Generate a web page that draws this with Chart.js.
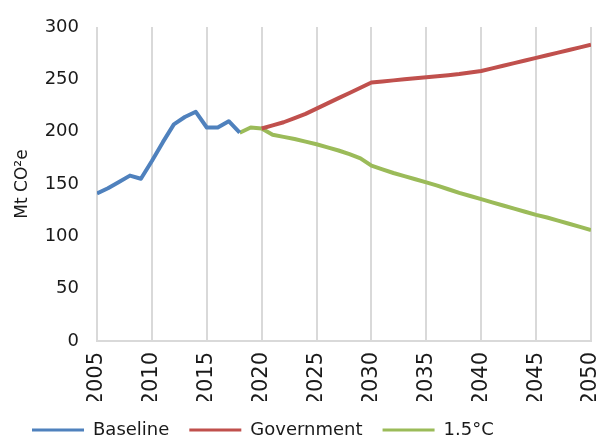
<!DOCTYPE html>
<html>
<head>
<meta charset="utf-8">
<script src="https://cdn.jsdelivr.net/npm/chart.js@4/dist/chart.umd.min.js"></script>
</head>
<body style="margin:0;background:#fff">
<div style="width:601px;height:441px"><canvas id="emissions"></canvas></div>
<script>
// Emissions pathways, Mt CO2e
const baselineYears = [2005, 2006, 2007, 2008, 2009, 2010, 2011, 2012, 2013, 2014, 2015, 2016, 2017, 2018];
const baselineValues = [141, 146, 152, 158, 155, 172, 190, 207, 214, 219, 204, 204, 210, 199];

const governmentYears = [2020, 2021, 2022, 2023, 2024, 2025, 2026, 2027, 2028, 2029, 2030,
  2031, 2032, 2033, 2034, 2035, 2036, 2037, 2038, 2039, 2040,
  2041, 2042, 2043, 2044, 2045, 2046, 2047, 2048, 2049, 2050];
const governmentValues = [203, 206, 209, 213, 217, 222, 227, 232, 237, 242, 247,
  248, 249, 250, 251, 252, 253, 254, 255, 256.5, 258,
  260.5, 263, 265.5, 268, 270.5, 273, 275.5, 278, 280.5, 283];

const onePointFiveYears = [2018, 2019, 2020, 2021, 2022, 2023, 2024, 2025, 2026, 2027, 2028, 2029, 2030,
  2031, 2032, 2033, 2034, 2035, 2036, 2037, 2038, 2039, 2040,
  2041, 2042, 2043, 2044, 2045, 2046, 2047, 2048, 2049, 2050];
const onePointFiveValues = [199, 204, 203, 197, 195, 193, 190.5, 188, 185, 182, 178.5, 174.5, 167.5,
  164, 160.5, 157.5, 154.5, 151.5, 148.5, 145, 141.5, 138.5, 135.5,
  132.5, 129.5, 126.5, 123.5, 120.5, 118, 115, 112, 109, 106];

const yTicks = [0, 50, 100, 150, 200, 250, 300];

const FONT = '"DejaVu Sans", sans-serif';
const TEXT = '#1a1a1a';

function pts(years, values) {
  return years.map((y, i) => ({ x: y, y: values[i] }));
}

function line(label, years, values, color) {
  return {
    label: label,
    data: pts(years, values),
    borderColor: color,
    backgroundColor: color,
    borderWidth: 4,
    pointRadius: 0,
    tension: 0,
    borderJoinStyle: 'round'
  };
}

new Chart(document.getElementById('emissions'), {
  type: 'line',
  data: {
    datasets: [
      line('Baseline', baselineYears, baselineValues, '#4f81bd'),
      line('Government', governmentYears, governmentValues, '#c0504d'),
      line('1.5°C', onePointFiveYears, onePointFiveValues, '#9bbb59')
    ]
  },
  options: {
    responsive: true,
    maintainAspectRatio: false,
    animation: false,
    layout: { padding: { top: 27, right: 0, bottom: 0, left: 12 } },
    scales: {
      x: {
        type: 'linear',
        min: 2005,
        max: 2050,
        grid: { color: '#d9d9d9', lineWidth: 2, drawTicks: false },
        border: { color: '#d9d9d9', width: 2 },
        ticks: {
          stepSize: 5,
          autoSkip: false,
          minRotation: 90,
          maxRotation: 90,
          padding: 11,
          color: TEXT,
          font: { family: FONT, size: 21 },
          callback: v => String(v)
        },
        afterFit: axis => {
          axis.height = 60;
          axis.paddingLeft = 0;
          axis.paddingRight = 10;
        }
      },
      y: {
        min: 0,
        max: 300,
        afterBuildTicks: axis => { axis.ticks = yTicks.map(v => ({ value: v })); },
        afterFit: axis => { axis.width = 85; },
        grid: { display: false },
        border: { display: false },
        ticks: {
          padding: 10,
          color: TEXT,
          font: { family: FONT, size: 18 }
        },
        title: {
          display: true,
          text: 'Mt CO²e',
          color: TEXT,
          padding: 0,
          font: { family: FONT, size: 17 }
        }
      }
    },
    plugins: {
      legend: {
        position: 'bottom',
        align: 'start',
        maxHeight: 40,
        labels: {
          boxWidth: 52,
          boxHeight: 3,
          padding: 20,
          color: TEXT,
          font: { family: FONT, size: 18 },
          generateLabels: chart => Chart.defaults.plugins.legend.labels.generateLabels(chart)
            .map(item => Object.assign(item, { lineWidth: 0 }))
        }
      },
      tooltip: { enabled: false }
    }
  }
});
</script>
</body>
</html>
